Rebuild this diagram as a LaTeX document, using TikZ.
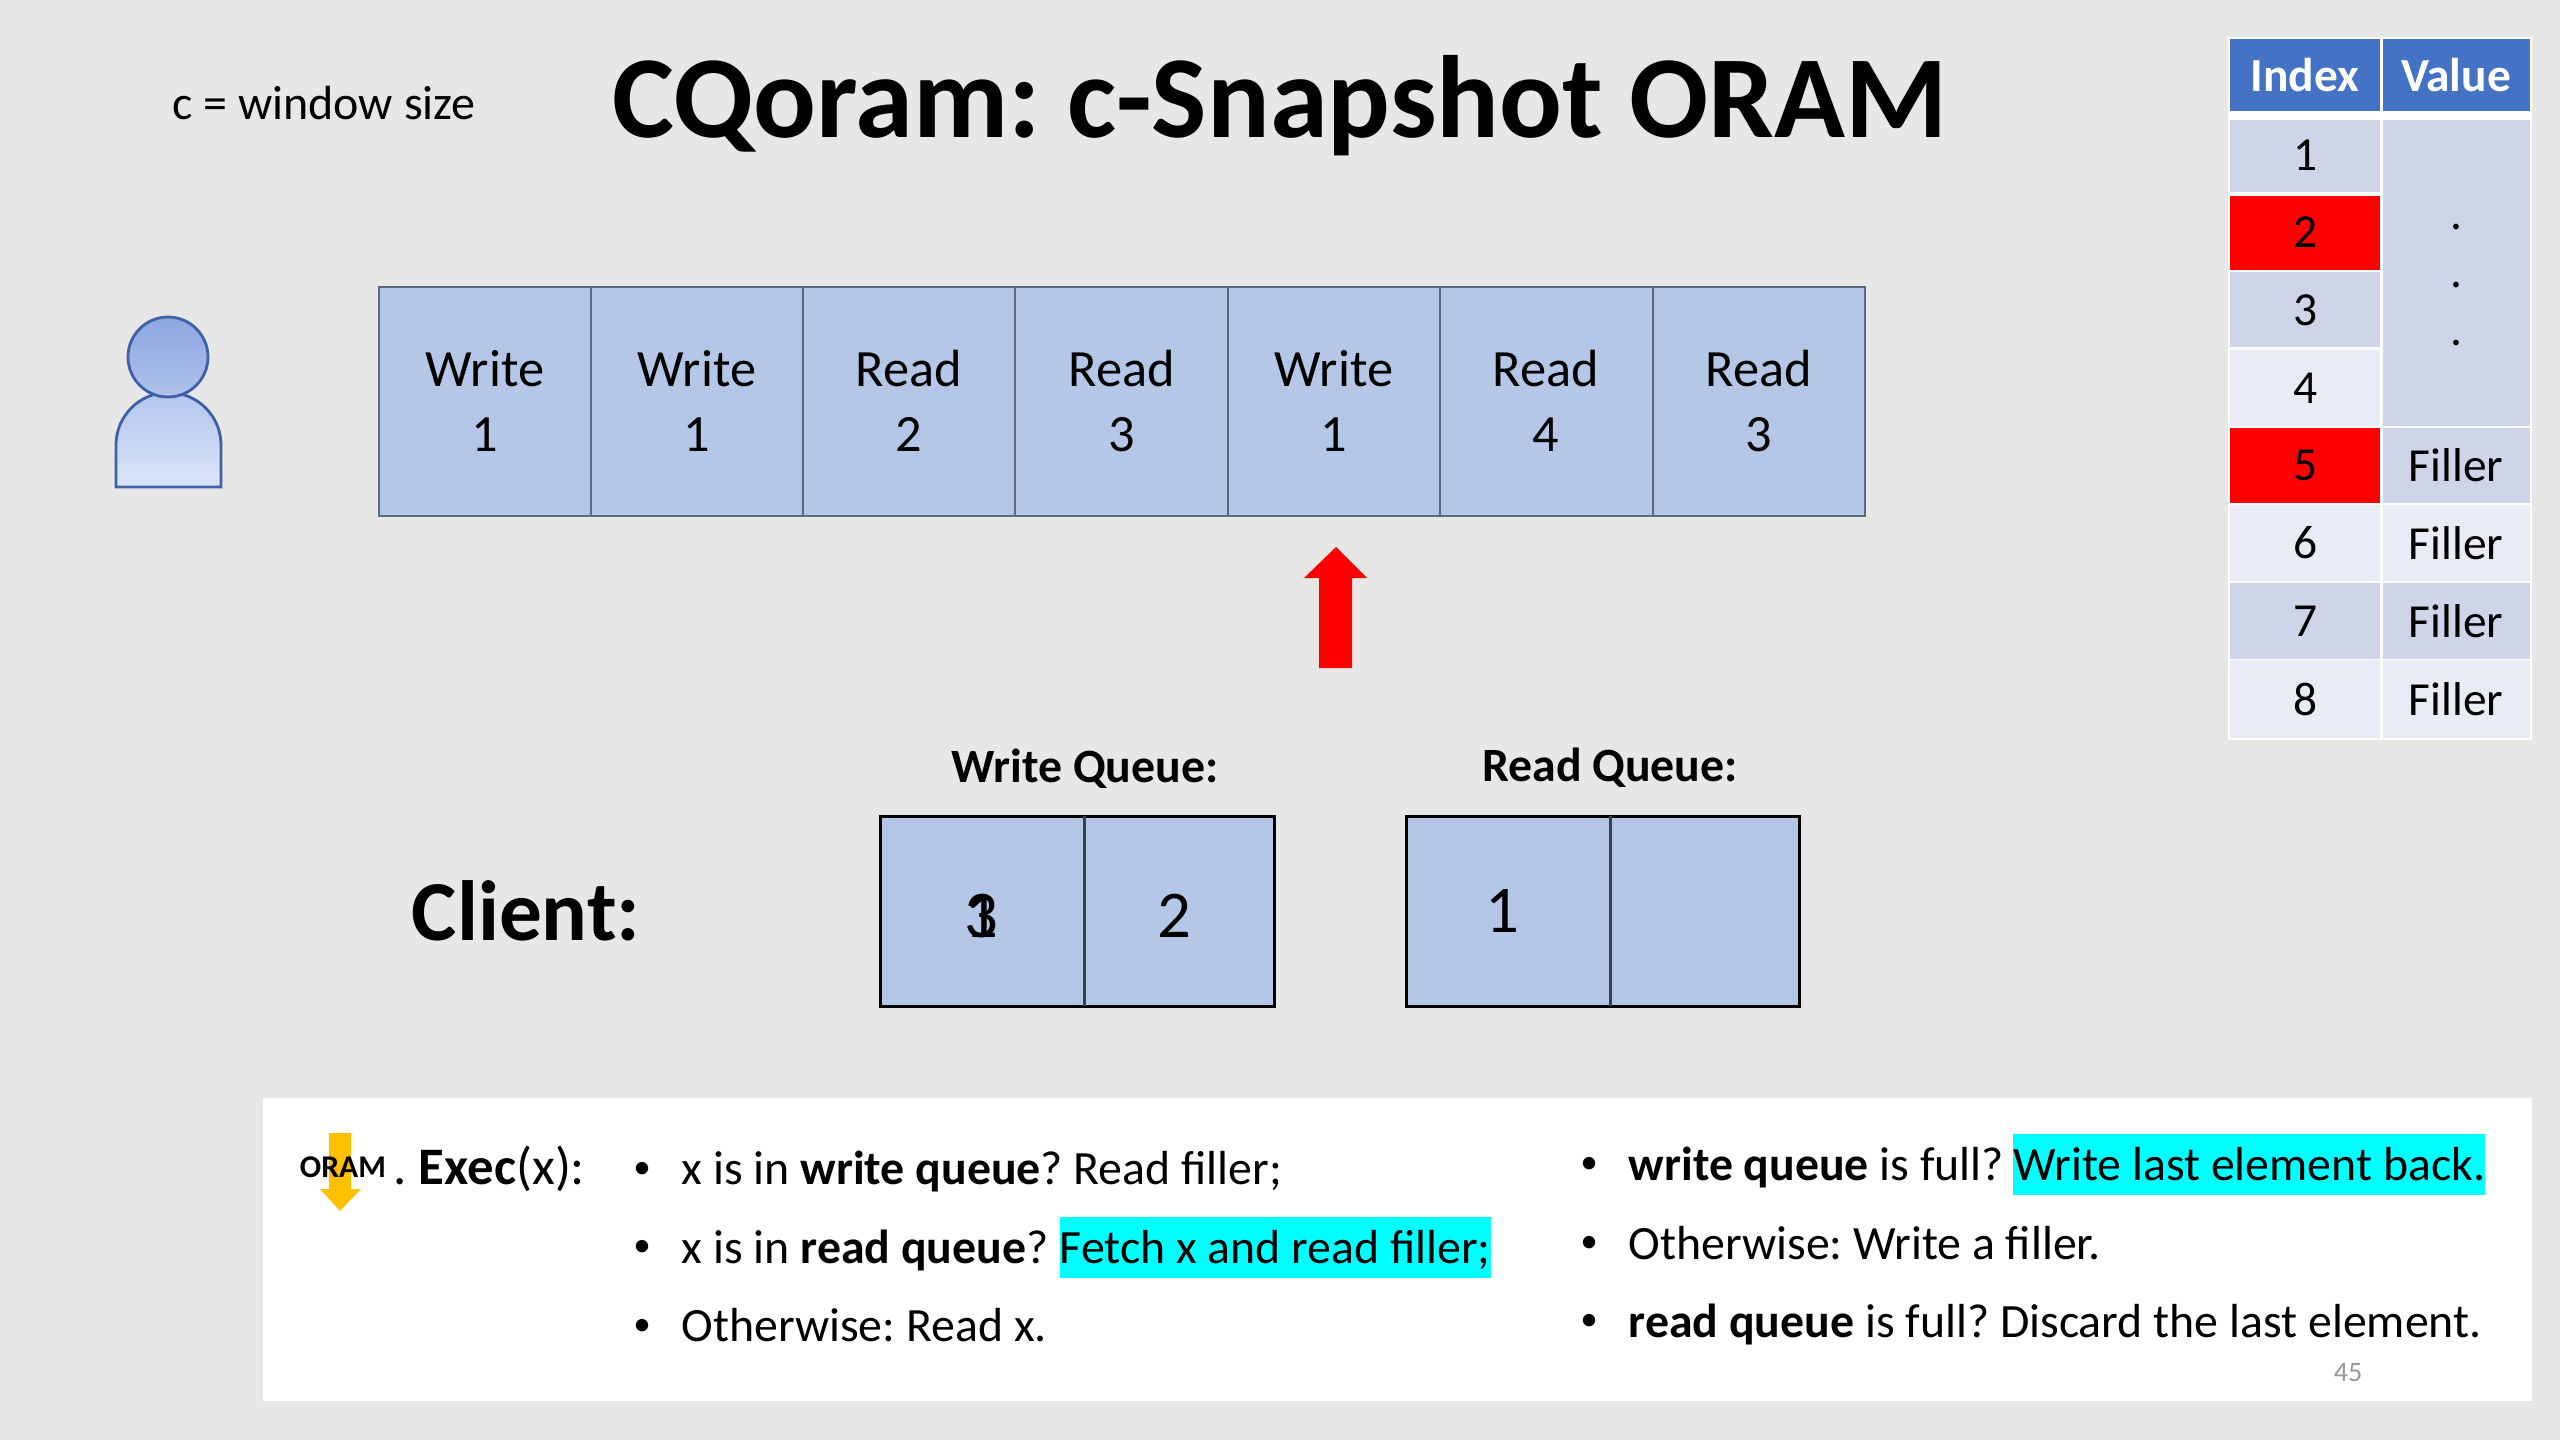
\documentclass[tikz,border=0pt]{standalone}
\usepackage{fontspec}
\setmainfont{Carlito}
\usepackage{tikz}
\usepackage{xcolor}
\definecolor{slidebg}{HTML}{E7E7E7}
\definecolor{cellblue}{HTML}{B4C7E7}
\definecolor{cellline}{HTML}{5A6A7C}
\definecolor{headblue}{HTML}{4472C4}
\definecolor{rowdark}{HTML}{CFD5E9}
\definecolor{rowlight}{HTML}{E9EBF5}
\definecolor{hlcyan}{HTML}{00FFFF}
\definecolor{orangearrow}{HTML}{FFC000}
\definecolor{personline}{HTML}{3F62A6}
\definecolor{headtop}{HTML}{8CA6E0}
\definecolor{headbot}{HTML}{B0C2EC}
\definecolor{bodytop}{HTML}{B4C6EE}
\definecolor{bodybot}{HTML}{DBE4F8}
\frenchspacing

\begin{document}
\begin{tikzpicture}[x=1cm,y=1cm,
  slidetitle/.style={font=\fontsize{33.3}{38}\selectfont\bfseries,inner sep=0pt},
  celltext/.style={font=\fontsize{14.9}{18.4}\selectfont,align=center,inner sep=0pt},
  qtitle/.style={font=\fontsize{13.6}{16}\selectfont\bfseries,inner sep=0pt},
  qdigit/.style={font=\fontsize{19}{22}\selectfont,inner sep=0pt},
  tabtext/.style={font=\fontsize{13.5}{16}\selectfont,inner sep=0pt},
  tabhead/.style={font=\fontsize{13.5}{16}\selectfont\bfseries,text=white,inner sep=0pt},
  bodytext/.style={font=\fontsize{13.6}{16}\selectfont,anchor=base west,inner sep=0pt},
  hltext/.style={bodytext,fill=hlcyan,text height=0.46cm,text depth=0.15cm},
  bulletdot/.style={font=\fontsize{10}{12}\selectfont,inner sep=0pt}]
\fill[slidebg] (0,0) rectangle (25.6,-14.4);
\node[slidetitle] (title) at (12.80,-1.06) {CQoram: c-Snapshot ORAM};
\node[font=\fontsize{13.65}{16}\selectfont,inner sep=0pt] (wsize) at (3.24,-1.03) {c = window size};
% person
\shade[top color=bodytop,bottom color=bodybot,draw=personline,line width=0.8pt]
  (1.16,-4.87) -- (1.16,-4.45) arc (180:0:0.525) -- (2.21,-4.87) -- cycle;
\shade[top color=headtop,bottom color=headbot,draw=personline,line width=0.8pt]
  (1.68,-3.57) circle (0.4);
% access sequence
\fill[cellblue] (3.79,-2.87) rectangle (5.91,-5.16);
\draw[cellline,line width=0.7pt] (3.79,-2.87) rectangle (5.91,-5.16);
\node[celltext] (op1) at (4.85,-4.01) {Write\\1};
\fill[cellblue] (5.91,-2.87) rectangle (8.03,-5.16);
\draw[cellline,line width=0.7pt] (5.91,-2.87) rectangle (8.03,-5.16);
\node[celltext] (op2) at (6.97,-4.01) {Write\\1};
\fill[cellblue] (8.03,-2.87) rectangle (10.15,-5.16);
\draw[cellline,line width=0.7pt] (8.03,-2.87) rectangle (10.15,-5.16);
\node[celltext] (op3) at (9.09,-4.01) {Read\\2};
\fill[cellblue] (10.15,-2.87) rectangle (12.28,-5.16);
\draw[cellline,line width=0.7pt] (10.15,-2.87) rectangle (12.28,-5.16);
\node[celltext] (op4) at (11.22,-4.01) {Read\\3};
\fill[cellblue] (12.28,-2.87) rectangle (14.40,-5.16);
\draw[cellline,line width=0.7pt] (12.28,-2.87) rectangle (14.40,-5.16);
\node[celltext] (op5) at (13.34,-4.01) {Write\\1};
\fill[cellblue] (14.40,-2.87) rectangle (16.53,-5.16);
\draw[cellline,line width=0.7pt] (14.40,-2.87) rectangle (16.53,-5.16);
\node[celltext] (op6) at (15.46,-4.01) {Read\\4};
\fill[cellblue] (16.53,-2.87) rectangle (18.65,-5.16);
\draw[cellline,line width=0.7pt] (16.53,-2.87) rectangle (18.65,-5.16);
\node[celltext] (op7) at (17.59,-4.01) {Read\\3};
% pointer
\fill[red] (13.36,-5.47) -- (13.67,-5.78) -- (13.52,-5.78) -- (13.52,-6.68)
  -- (13.19,-6.68) -- (13.19,-5.78) -- (13.04,-5.78) -- cycle;
% table
\fill[white] (22.28,-0.37) rectangle (25.32,-7.40);
\fill[headblue] (22.30,-0.39) rectangle (23.80,-1.11);
\node[tabhead] (idxhead) at (23.05,-0.75) {Index};
\fill[headblue] (23.83,-0.39) rectangle (25.30,-1.11);
\node[tabhead] (valhead) at (24.56,-0.75) {Value};
\fill[rowdark] (22.30,-1.20) rectangle (23.80,-1.92);
\node[tabtext] (idx1) at (23.05,-1.55) {1};
\fill[red] (22.30,-1.96) rectangle (23.80,-2.70);
\node[tabtext] (idx2) at (23.05,-2.32) {2};
\fill[rowdark] (22.30,-2.72) rectangle (23.80,-3.47);
\node[tabtext] (idx3) at (23.05,-3.10) {3};
\fill[rowlight] (22.30,-3.50) rectangle (23.80,-4.26);
\node[tabtext] (idx4) at (23.05,-3.88) {4};
\fill[red] (22.30,-4.28) rectangle (23.80,-5.03);
\node[tabtext] (idx5) at (23.05,-4.65) {5};
\fill[rowlight] (22.30,-5.05) rectangle (23.80,-5.81);
\node[tabtext] (idx6) at (23.05,-5.43) {6};
\fill[rowdark] (22.30,-5.83) rectangle (23.80,-6.59);
\node[tabtext] (idx7) at (23.05,-6.21) {7};
\fill[rowlight] (22.30,-6.60) rectangle (23.80,-7.38);
\node[tabtext] (idx8) at (23.05,-6.99) {8};
\fill[rowdark] (23.83,-1.20) rectangle (25.30,-4.26);
\node[tabtext] (dota) at (24.56,-2.27) {.};
\node[tabtext] (dotb) at (24.56,-2.85) {.};
\node[tabtext] (dotc) at (24.56,-3.43) {.};
\fill[rowdark] (23.83,-4.28) rectangle (25.30,-5.03);
\node[tabtext] (val5) at (24.56,-4.65) {Filler};
\fill[rowlight] (23.83,-5.05) rectangle (25.30,-5.81);
\node[tabtext] (val6) at (24.56,-5.43) {Filler};
\fill[rowdark] (23.83,-5.83) rectangle (25.30,-6.59);
\node[tabtext] (val7) at (24.56,-6.21) {Filler};
\fill[rowlight] (23.83,-6.60) rectangle (25.30,-7.38);
\node[tabtext] (val8) at (24.56,-6.99) {Filler};
% client
\node[font=\fontsize{24.3}{28}\selectfont\bfseries,inner sep=0pt] (client) at (5.26,-9.11) {Client:};
\node[qtitle] (wqtitle) at (10.85,-7.69) {Write Queue:};
\node[qtitle] (rqtitle) at (16.10,-7.68) {Read Queue:};
\fill[cellblue] (8.80,-8.16) rectangle (12.74,-10.06);
\draw[black,line width=0.85pt] (8.80,-8.16) rectangle (12.74,-10.06);
\draw[cellline!60!black,line width=0.85pt] (10.84,-8.16) -- (10.84,-10.06);
\node[qdigit] (wqa) at (9.81,-9.16) {3};
\node[qdigit] (wqb) at (9.81,-9.16) {1};
\node[qdigit] (wqc) at (11.74,-9.16) {2};
\fill[cellblue] (14.06,-8.16) rectangle (17.99,-10.06);
\draw[black,line width=0.85pt] (14.06,-8.16) rectangle (17.99,-10.06);
\draw[cellline!60!black,line width=0.85pt] (16.10,-8.16) -- (16.10,-10.06);
\node[qdigit] (rqa) at (15.02,-9.11) {1};
% protocol panel
\fill[white] (2.63,-10.98) rectangle (25.32,-14.01);
\fill[orangearrow] (3.40,-12.11) -- (3.61,-11.89) -- (3.51,-11.89) -- (3.51,-11.33)
  -- (3.29,-11.33) -- (3.29,-11.89) -- (3.20,-11.89) -- cycle;
\node[font=\fontsize{9}{10}\selectfont\bfseries,inner sep=0pt] (oram) at (3.43,-11.67) {ORAM};
\node[font=\fontsize{15}{18}\selectfont,anchor=base west,inner sep=0pt] (exec) at (3.93,-11.84) {.~\textbf{Exec}(x):};
\node[bulletdot] (la) at (6.42,-11.70) {•};
\node[bodytext] (lta) at (6.81,-11.84) {x is in \textbf{write queue}? Read filler;};
\node[bulletdot] (lb) at (6.42,-12.48) {•};
\node[bodytext] (ltb) at (6.81,-12.63) {x is in \textbf{read queue}?};
\node[hltext] (lhb) at ([xshift=0.10cm]ltb.base east) {Fetch x and read filler;};
\node[bulletdot] (lc) at (6.42,-13.27) {•};
\node[bodytext] (ltc) at (6.81,-13.41) {Otherwise: Read x.};
\node[bulletdot] (ra) at (15.89,-11.65) {•};
\node[bodytext] (rta) at (16.28,-11.80) {\textbf{write queue} is full?};
\node[hltext] (rha) at ([xshift=0.08cm]rta.base east) {Write last element back.};
\node[bulletdot] (rb) at (15.89,-12.44) {•};
\node[bodytext] (rtb) at (16.28,-12.59) {Otherwise: Write a filler.};
\node[bulletdot] (rc) at (15.89,-13.22) {•};
\node[bodytext] (rtc) at (16.28,-13.37) {\textbf{read queue} is full? Discard the last element.};
\node[font=\fontsize{8}{10}\selectfont,text=gray!80,inner sep=0pt] (pageno) at (23.48,-13.73) {45};
\end{tikzpicture}
\end{document}
